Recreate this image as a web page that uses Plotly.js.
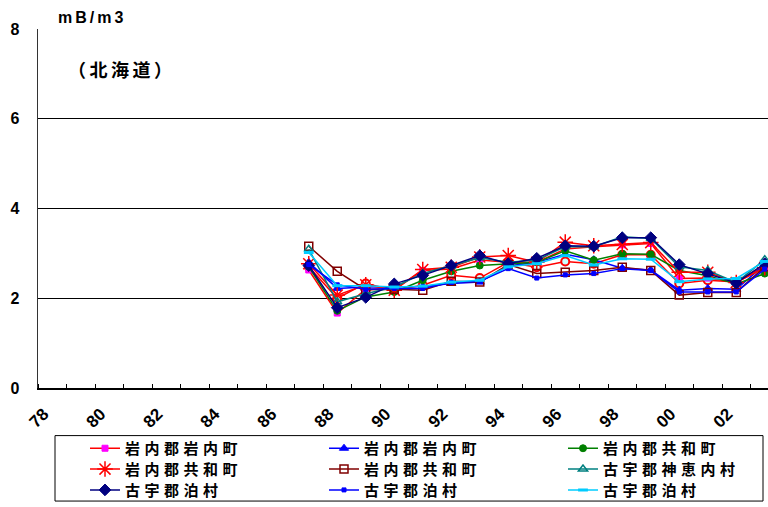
<!DOCTYPE html>
<html><head><meta charset="utf-8">
<script src="https://cdn.plot.ly/plotly-3.0.1.min.js"></script>
<style>html,body{margin:0;padding:0;background:#fff}#chart{width:768px;height:507px}</style>
</head><body><div id="chart"></div>
<script>
// ---- data ----
const years = [1987,1988,1989,1990,1991,1992,1993,1994,1995,1996,1997,1998,1999,2000,2001,2002,2003];
const tickYears = [1978,1980,1982,1984,1986,1988,1990,1992,1994,1996,1998,2000,2002];
const tickLabels = ["78","80","82","84","86","88","90","92","94","96","98","00","02"];
const yTicks = [0,2,4,6,8];
const seriesNames = ["岩内郡岩内町","岩内郡岩内町","岩内郡共和町","岩内郡共和町","岩内郡共和町","古宇郡神恵内村","古宇郡泊村","古宇郡泊村","古宇郡泊村","古宇郡泊村"];
const s1 = [2.63,1.67,2.20,2.20,2.62,2.65,2.85,2.80,2.80,3.10,3.15,3.19,3.22,2.44,2.45,2.35,2.70];
const s2 = [2.80,2.22,2.25,2.25,2.26,2.33,2.36,2.72,2.80,2.98,2.86,2.67,2.63,2.18,2.22,2.20,2.75];
const s3 = [2.70,1.72,2.03,2.14,2.40,2.60,2.73,2.76,2.80,3.06,2.85,2.99,2.98,2.62,2.50,2.32,2.55];
const s4 = [2.77,2.07,2.30,2.18,2.64,2.69,2.92,2.95,2.80,3.25,3.17,3.20,3.24,2.58,2.58,2.35,2.68];
const s5 = [3.16,2.60,2.19,2.20,2.18,2.38,2.36,2.75,2.55,2.58,2.62,2.69,2.62,2.07,2.13,2.13,2.70];
const s6 = [3.09,1.92,2.10,2.25,2.55,2.72,2.90,2.80,2.85,3.15,3.15,3.37,3.33,2.70,2.62,2.35,2.86];
const s7 = [2.73,1.79,2.02,2.32,2.51,2.73,2.95,2.77,2.89,3.17,3.16,3.35,3.35,2.75,2.55,2.34,2.77];
const s8 = [2.75,2.30,2.20,2.22,2.22,2.35,2.38,2.66,2.45,2.52,2.55,2.66,2.62,2.14,2.14,2.14,2.65];
const s9 = [3.02,2.28,2.28,2.25,2.27,2.36,2.40,2.70,2.77,2.95,2.74,2.88,2.87,2.37,2.43,2.44,2.82];
const s10 = [2.70,2.00,2.33,2.18,2.29,2.51,2.45,2.80,2.69,2.82,2.77,2.97,2.97,2.33,2.40,2.36,2.73];
const allSeries = [s1,s2,s3,s4,s5,s6,s7,s8,s9,s10];

// ---- styles ----
const styles = [
  {line:'#FF0000', sym:'square', size:6, fill:'#FF00FF', lc:'#FF00FF', lw:1},
  {line:'#0000FF', sym:'triangle-up', size:8, fill:'#0000FF', lc:'#0000FF', lw:1},
  {line:'#008000', sym:'circle', size:7, fill:'#008000', lc:'#008000', lw:1},
  {line:'#FF0000', sym:'asterisk-open', size:13, fill:'#FF0000', lc:'#FF0000', lw:1.5},
  {line:'#800000', sym:'square-open', size:8, fill:'#800000', lc:'#800000', lw:1.5},
  {line:'#008080', sym:'triangle-up-open', size:8, fill:'#008080', lc:'#008080', lw:1.5},
  {line:'#000080', sym:'diamond', size:9, fill:'#000080', lc:'#000080', lw:1},
  {line:'#0000FF', sym:'square', size:4, fill:'#0000FF', lc:'#0000FF', lw:1},
  {line:'#00CCFF', sym:'line-ew-open', size:7, fill:'#00CCFF', lc:'#00CCFF', lw:3},
  {line:'#FF0000', sym:'circle', size:8, fill:'#CCFFFF', lc:'#FF0000', lw:2}
];

// plot geometry (px)
const L = 38, T = 29, W = 730, H = 362;
const px2x = p => (p - L) / W;
const px2y = p => (T + H - p) / H;

const legendCols = [85, 324, 563];
const legendRows = [452, 473, 494];
const spaced = (s, ls) => '<span style="letter-spacing:' + ls + 'px">' + s + '</span>';

const traces = allSeries.map((vals, i) => {
  const st = styles[i];
  const tr = {
    type: 'scatter', mode: 'lines+markers', x: years, y: vals, name: spaced(seriesNames[i], 4.5),
    line: {color: st.line, width: 1.5},
    marker: {symbol: st.sym, size: st.size, color: st.fill, line: {color: st.lc, width: st.lw}},
    cliponaxis: false
  };
  if (i < 9) {
    tr.legend = i === 0 ? 'legend' : 'legend' + (i + 1);
  } else {
    tr.showlegend = false;
  }
  return tr;
});
// draw hidden red-circle series beneath others
traces.unshift(traces.pop());

const layout = {
  width: 768, height: 507,
  margin: {l: L, r: 0, t: T, b: 507 - T - H, pad: 0},
  paper_bgcolor: '#fff', plot_bgcolor: '#fff',
  showlegend: true,
  xaxis: {
    range: [1977.5, 1977.5 + W / 28.5],
    tickmode: 'array', tickvals: tickYears.map(v => v - 0.3), ticktext: tickLabels,
    tickangle: -45, ticks: '', showgrid: false, zeroline: false,
    showline: true, linecolor: '#000', linewidth: 1.5,
    ticklabelstandoff: 8,
    tickfont: {family: 'Liberation Sans, Arial, sans-serif', size: 17, color: '#000', weight: 'bold'},
    minor: {tickmode: 'linear', tick0: 1977.5, dtick: 1, ticks: 'inside', ticklen: 4, tickcolor: '#000', tickwidth: 1, showgrid: false},
    fixedrange: true
  },
  yaxis: {
    range: [0, 8], tickmode: 'array', tickvals: yTicks, ticks: '',
    showgrid: true, gridcolor: '#000', gridwidth: 1, zeroline: false,
    showline: true, linecolor: '#333', linewidth: 1.5,
    ticklabelstandoff: 14,
    tickfont: {family: 'Liberation Sans, Arial, sans-serif', size: 16, color: '#000', weight: 'bold'},
    fixedrange: true
  },
  annotations: [
    {text: spaced('mB/m3', 3), xref: 'paper', yref: 'paper', x: px2x(56), y: px2y(17), xanchor: 'left', yanchor: 'middle', showarrow: false,
     font: {family: 'Liberation Sans, Arial, sans-serif', size: 16, color: '#000', weight: 'bold'}},
    {text: spaced('（北海道）', 3.5), xref: 'paper', yref: 'paper', x: px2x(66), y: px2y(69), xanchor: 'left', yanchor: 'middle', showarrow: false,
     font: {family: 'Noto Sans CJK JP, sans-serif', size: 18, color: '#000', weight: 'bold'}}
  ],
  shapes: [
    {type: 'rect', xref: 'paper', yref: 'paper', x0: px2x(55), x1: px2x(763), y0: px2y(439), y1: px2y(505),
     line: {color: '#000', width: 1}, fillcolor: 'rgba(0,0,0,0)', layer: 'below'}
  ]
};
for (let i = 0; i < 9; i++) {
  const key = i === 0 ? 'legend' : 'legend' + (i + 1);
  const col = i % 3, row = Math.floor(i / 3);
  layout[key] = {
    x: px2x(legendCols[col]), y: px2y(legendRows[row]), xanchor: 'left', yanchor: 'middle',
    orientation: 'v', bgcolor: 'rgba(0,0,0,0)', borderwidth: 0,
    font: {family: 'Noto Sans CJK JP, sans-serif', size: 15, color: '#000', weight: 'bold'}
  };
}
Plotly.newPlot('chart', traces, layout, {displayModeBar: false, staticPlot: true});
</script>
</body></html>
